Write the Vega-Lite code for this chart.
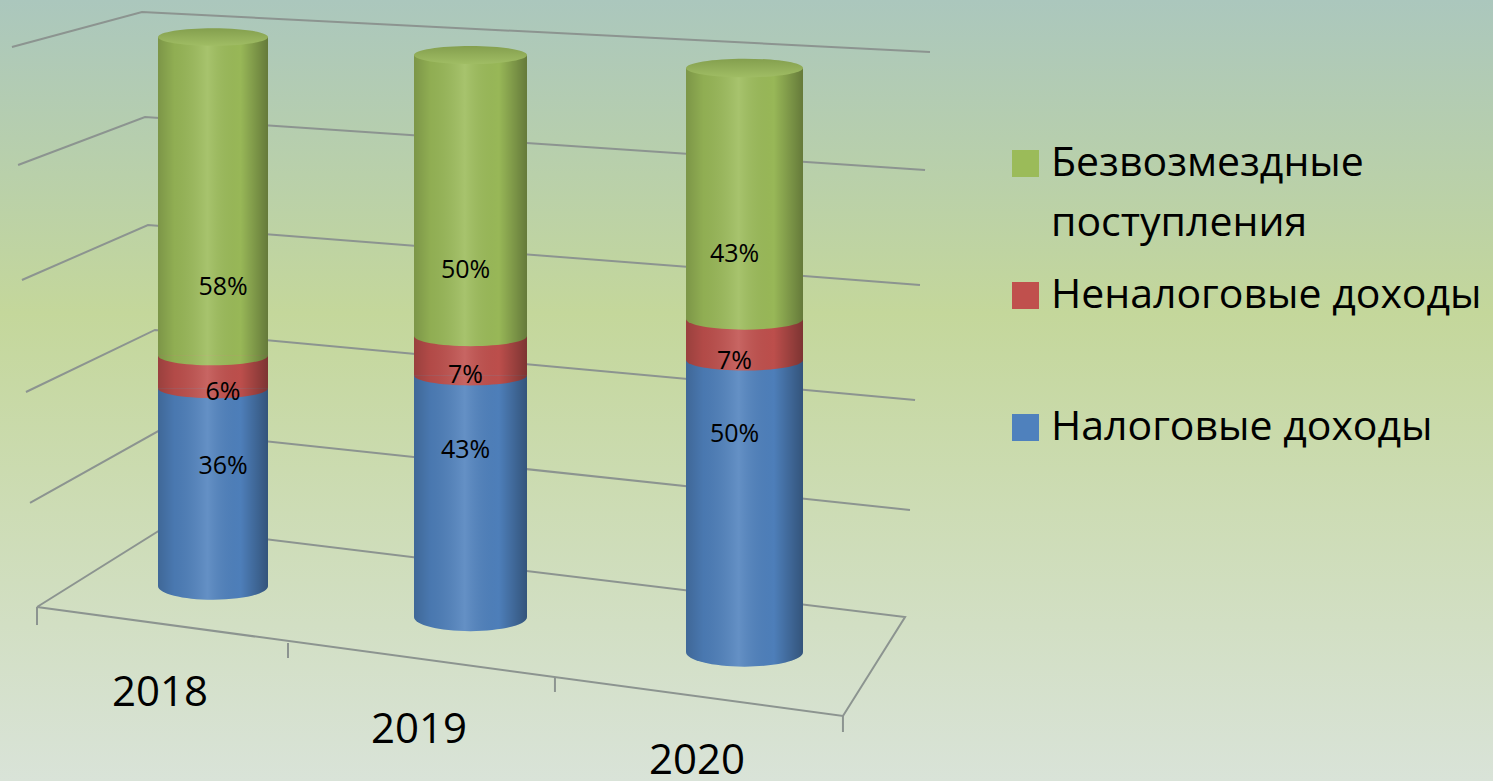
{
"$schema":"https://vega.github.io/schema/vega-lite/v6.json",
"width":1493,"height":781,"padding":0,"autosize":{"type":"none"},
"config":{"view":{"stroke":null,"fill":{"gradient":"linear","x1":0,"y1":0,"x2":0,"y2":1,"stops":[{"offset":0,"color":"#abc7bd"},{"offset":0.4,"color":"#c4d79b"},{"offset":1,"color":"#d9e3d8"}]}}},
"datasets":{
"shares":[
{"year":2018,"category":"Налоговые доходы","rank":1,"share":0.36,"labelAt":0.219},
{"year":2018,"category":"Неналоговые доходы","rank":2,"share":0.06,"labelAt":0.353},
{"year":2018,"category":"Безвозмездные поступления","rank":3,"share":0.58,"labelAt":0.545},
{"year":2019,"category":"Налоговые доходы","rank":1,"share":0.43,"labelAt":0.298},
{"year":2019,"category":"Неналоговые доходы","rank":2,"share":0.07,"labelAt":0.431},
{"year":2019,"category":"Безвозмездные поступления","rank":3,"share":0.50,"labelAt":0.617},
{"year":2020,"category":"Налоговые доходы","rank":1,"share":0.50,"labelAt":0.374},
{"year":2020,"category":"Неналоговые доходы","rank":2,"share":0.07,"labelAt":0.499},
{"year":2020,"category":"Безвозмездные поступления","rank":3,"share":0.43,"labelAt":0.681}],
"frame":[
{"line":"g1","n":1,"u":0.80,"v":93.98},{"line":"g1","n":2,"u":9.51,"v":98.46},{"line":"g1","n":3,"u":62.29,"v":93.34},
{"line":"g2","n":1,"u":1.21,"v":78.87},{"line":"g2","n":2,"u":9.71,"v":85.02},{"line":"g2","n":3,"u":61.96,"v":78.23},
{"line":"g3","n":1,"u":1.47,"v":64.15},{"line":"g3","n":2,"u":9.91,"v":71.19},{"line":"g3","n":3,"u":61.62,"v":63.51},
{"line":"g4","n":1,"u":1.74,"v":49.81},{"line":"g4","n":2,"u":10.38,"v":57.75},{"line":"g4","n":3,"u":61.29,"v":48.78},
{"line":"g5","n":1,"u":2.01,"v":35.60},{"line":"g5","n":2,"u":10.72,"v":44.94},{"line":"g5","n":3,"u":60.95,"v":34.70},
{"line":"floor","n":1,"u":2.48,"v":22.28},{"line":"floor","n":2,"u":11.05,"v":32.52},{"line":"floor","n":3,"u":60.62,"v":21.00},{"line":"floor","n":4,"u":56.46,"v":8.32},{"line":"floor","n":5,"u":2.48,"v":22.28},
{"line":"t1","n":1,"u":2.48,"v":22.28},{"line":"t1","n":2,"u":2.48,"v":19.97},
{"line":"t2","n":1,"u":19.29,"v":17.67},{"line":"t2","n":2,"u":19.29,"v":15.75},
{"line":"t3","n":1,"u":37.17,"v":13.19},{"line":"t3","n":2,"u":37.17,"v":11.40},
{"line":"t4","n":1,"u":56.46,"v":8.32},{"line":"t4","n":2,"u":56.46,"v":6.27}],
"years":[{"year":"2018","u":10.72,"v":11.27},{"year":"2019","u":28.06,"v":6.53},{"year":"2020","u":46.68,"v":2.6}]
},
"data":{"name":"shares"},
"transform":[{"stack":"share","groupby":["year"],"sort":[{"field":"rank","order":"ascending"}],"as":["y0","y1"]}],
"resolve":{"scale":{"x":"independent","y":"independent"}},
"layer":[
{"layer":[
{"data":{"name":"frame"},"mark":{"type":"line","color":"#8c9490","strokeWidth":2,"interpolate":"linear"},
"encoding":{"detail":{"field":"line"},"order":{"field":"n"},
"x":{"field":"u","type":"quantitative","axis":null,"scale":{"domain":[0,100],"nice":false,"zero":false}},
"y":{"field":"v","type":"quantitative","axis":null,"scale":{"domain":[0,100],"nice":false,"zero":false}}}},
{"data":{"name":"years"},"mark":{"type":"text","font":"Open Sans","fontSize":42,"color":"#000000","align":"center","baseline":"middle"},
"encoding":{"text":{"field":"year"},
"x":{"field":"u","type":"quantitative","axis":null},
"y":{"field":"v","type":"quantitative","axis":null}}}
]},
{"transform":[{"filter":"datum.year==2018"}],
"encoding":{"x":{"field":"year","type":"nominal","axis":null,"scale":{"type":"band","domain":[2018],"range":[158,268],"paddingInner":0,"paddingOuter":0}}},
"layer":[
{"mark":{"type":"bar"},"encoding":{"y":{"field":"y0","type":"quantitative","axis":null,"scale":{"domain":[0,1],"range":[586,37],"nice":false,"zero":false}},"y2":{"field":"y1"},
"color":{"field":"category","type":"nominal","scale":{"domain":["Безвозмездные поступления","Неналоговые доходы","Налоговые доходы"],"range":["#9bbb59","#c0504d","#4f81bd"]},
"legend":{"title":null,"orient":"none","legendX":1005,"legendY":143,"symbolType":"square","symbolSize":729,"symbolStrokeWidth":0,"symbolOpacity":1,"labelFont":"Open Sans","labelFontSize":41,"labelColor":"#000000","labelLimit":600,"labelOffset":5,"rowPadding":30,"gridAlign":"all","columns":1,
"labelExpr":"datum.label=='Безвозмездные поступления'?['Безвозмездные','поступления']:datum.label",
"encode":{"labels":{"update":{"lineHeight":{"value":60}}}}}}}},
{"transform":[{"filter":"datum.rank>1"}],"mark":{"type":"point","filled":true,"opacity":1,"strokeWidth":0,"size":12100,"shape":"M-1,0A1,0.18 0 0,0 1,0Z"},"encoding":{"y":{"field":"y0","type":"quantitative"},"color":{"field":"category","type":"nominal"}}},
{"transform":[{"filter":"datum.rank==1"}],"mark":{"type":"point","filled":true,"opacity":1,"strokeWidth":0,"size":12100,"shape":"M-1,0A1,0.25 0 0,0 1,0Z"},"encoding":{"y":{"field":"y0","type":"quantitative"},"color":{"field":"category","type":"nominal"}}},
{"transform":[{"filter":"datum.rank==1"}],"mark":{"type":"bar","fill":{"gradient":"linear","x1":0,"y1":0,"x2":1,"y2":0,"stops":[{"offset":0,"color":"rgba(0,0,0,0.2)"},{"offset":0.15,"color":"rgba(0,0,0,0.07)"},{"offset":0.45,"color":"rgba(255,255,255,0.12)"},{"offset":0.75,"color":"rgba(0,0,0,0.02)"},{"offset":1,"color":"rgba(0,0,0,0.35)"}]}},"encoding":{"y":{"datum":0,"type":"quantitative"},"y2":{"datum":1}}},
{"transform":[{"filter":"datum.rank==1"}],"mark":{"type":"point","filled":true,"opacity":1,"strokeWidth":0,"size":12100,"shape":"M-1,0A1,0.25 0 0,0 1,0Z","fill":{"gradient":"linear","x1":0,"y1":0,"x2":1,"y2":0,"stops":[{"offset":0,"color":"rgba(0,0,0,0.2)"},{"offset":0.15,"color":"rgba(0,0,0,0.07)"},{"offset":0.45,"color":"rgba(255,255,255,0.12)"},{"offset":0.75,"color":"rgba(0,0,0,0.02)"},{"offset":1,"color":"rgba(0,0,0,0.35)"}]}},"encoding":{"y":{"field":"y0","type":"quantitative"}}},
{"transform":[{"filter":"datum.rank==3"}],"mark":{"type":"point","filled":true,"opacity":1,"strokeWidth":0,"size":12100,"shape":"M-1,0A1,0.16 0 1,0 1,0A1,0.16 0 1,0 -1,0Z","fill":{"gradient":"linear","x1":0,"y1":0,"x2":0,"y2":1,"stops":[{"offset":0,"color":"#849f4e"},{"offset":1,"color":"#a0bd64"}]}},"encoding":{"y":{"field":"y1","type":"quantitative"}}},
{"mark":{"type":"text","font":"Open Sans","fontSize":25,"color":"#000000","dx":10},"encoding":{"y":{"field":"labelAt","type":"quantitative"},"text":{"field":"share","type":"quantitative","format":".0%"}}}
]},
{"transform":[{"filter":"datum.year==2019"}],
"encoding":{"x":{"field":"year","type":"nominal","axis":null,"scale":{"type":"band","domain":[2019],"range":[414,527],"paddingInner":0,"paddingOuter":0}}},
"layer":[
{"mark":{"type":"bar"},"encoding":{"y":{"field":"y0","type":"quantitative","axis":null,"scale":{"domain":[0,1],"range":[617,55],"nice":false,"zero":false}},"y2":{"field":"y1"},"color":{"field":"category","type":"nominal"}}},
{"transform":[{"filter":"datum.rank>1"}],"mark":{"type":"point","filled":true,"opacity":1,"strokeWidth":0,"size":12769,"shape":"M-1,0A1,0.18 0 0,0 1,0Z"},"encoding":{"y":{"field":"y0","type":"quantitative"},"color":{"field":"category","type":"nominal"}}},
{"transform":[{"filter":"datum.rank==1"}],"mark":{"type":"point","filled":true,"opacity":1,"strokeWidth":0,"size":12769,"shape":"M-1,0A1,0.25 0 0,0 1,0Z"},"encoding":{"y":{"field":"y0","type":"quantitative"},"color":{"field":"category","type":"nominal"}}},
{"transform":[{"filter":"datum.rank==1"}],"mark":{"type":"bar","fill":{"gradient":"linear","x1":0,"y1":0,"x2":1,"y2":0,"stops":[{"offset":0,"color":"rgba(0,0,0,0.2)"},{"offset":0.15,"color":"rgba(0,0,0,0.07)"},{"offset":0.45,"color":"rgba(255,255,255,0.12)"},{"offset":0.75,"color":"rgba(0,0,0,0.02)"},{"offset":1,"color":"rgba(0,0,0,0.35)"}]}},"encoding":{"y":{"datum":0,"type":"quantitative"},"y2":{"datum":1}}},
{"transform":[{"filter":"datum.rank==1"}],"mark":{"type":"point","filled":true,"opacity":1,"strokeWidth":0,"size":12769,"shape":"M-1,0A1,0.25 0 0,0 1,0Z","fill":{"gradient":"linear","x1":0,"y1":0,"x2":1,"y2":0,"stops":[{"offset":0,"color":"rgba(0,0,0,0.2)"},{"offset":0.15,"color":"rgba(0,0,0,0.07)"},{"offset":0.45,"color":"rgba(255,255,255,0.12)"},{"offset":0.75,"color":"rgba(0,0,0,0.02)"},{"offset":1,"color":"rgba(0,0,0,0.35)"}]}},"encoding":{"y":{"field":"y0","type":"quantitative"}}},
{"transform":[{"filter":"datum.rank==3"}],"mark":{"type":"point","filled":true,"opacity":1,"strokeWidth":0,"size":12769,"shape":"M-1,0A1,0.16 0 1,0 1,0A1,0.16 0 1,0 -1,0Z","fill":{"gradient":"linear","x1":0,"y1":0,"x2":0,"y2":1,"stops":[{"offset":0,"color":"#849f4e"},{"offset":1,"color":"#a0bd64"}]}},"encoding":{"y":{"field":"y1","type":"quantitative"}}},
{"mark":{"type":"text","font":"Open Sans","fontSize":25,"color":"#000000","dx":-5},"encoding":{"y":{"field":"labelAt","type":"quantitative"},"text":{"field":"share","type":"quantitative","format":".0%"}}}
]},
{"transform":[{"filter":"datum.year==2020"}],
"encoding":{"x":{"field":"year","type":"nominal","axis":null,"scale":{"type":"band","domain":[2020],"range":[686,803],"paddingInner":0,"paddingOuter":0}}},
"layer":[
{"mark":{"type":"bar"},"encoding":{"y":{"field":"y0","type":"quantitative","axis":null,"scale":{"domain":[0,1],"range":[652,68],"nice":false,"zero":false}},"y2":{"field":"y1"},"color":{"field":"category","type":"nominal"}}},
{"transform":[{"filter":"datum.rank>1"}],"mark":{"type":"point","filled":true,"opacity":1,"strokeWidth":0,"size":13689,"shape":"M-1,0A1,0.18 0 0,0 1,0Z"},"encoding":{"y":{"field":"y0","type":"quantitative"},"color":{"field":"category","type":"nominal"}}},
{"transform":[{"filter":"datum.rank==1"}],"mark":{"type":"point","filled":true,"opacity":1,"strokeWidth":0,"size":13689,"shape":"M-1,0A1,0.25 0 0,0 1,0Z"},"encoding":{"y":{"field":"y0","type":"quantitative"},"color":{"field":"category","type":"nominal"}}},
{"transform":[{"filter":"datum.rank==1"}],"mark":{"type":"bar","fill":{"gradient":"linear","x1":0,"y1":0,"x2":1,"y2":0,"stops":[{"offset":0,"color":"rgba(0,0,0,0.2)"},{"offset":0.15,"color":"rgba(0,0,0,0.07)"},{"offset":0.45,"color":"rgba(255,255,255,0.12)"},{"offset":0.75,"color":"rgba(0,0,0,0.02)"},{"offset":1,"color":"rgba(0,0,0,0.35)"}]}},"encoding":{"y":{"datum":0,"type":"quantitative"},"y2":{"datum":1}}},
{"transform":[{"filter":"datum.rank==1"}],"mark":{"type":"point","filled":true,"opacity":1,"strokeWidth":0,"size":13689,"shape":"M-1,0A1,0.25 0 0,0 1,0Z","fill":{"gradient":"linear","x1":0,"y1":0,"x2":1,"y2":0,"stops":[{"offset":0,"color":"rgba(0,0,0,0.2)"},{"offset":0.15,"color":"rgba(0,0,0,0.07)"},{"offset":0.45,"color":"rgba(255,255,255,0.12)"},{"offset":0.75,"color":"rgba(0,0,0,0.02)"},{"offset":1,"color":"rgba(0,0,0,0.35)"}]}},"encoding":{"y":{"field":"y0","type":"quantitative"}}},
{"transform":[{"filter":"datum.rank==3"}],"mark":{"type":"point","filled":true,"opacity":1,"strokeWidth":0,"size":13689,"shape":"M-1,0A1,0.16 0 1,0 1,0A1,0.16 0 1,0 -1,0Z","fill":{"gradient":"linear","x1":0,"y1":0,"x2":0,"y2":1,"stops":[{"offset":0,"color":"#849f4e"},{"offset":1,"color":"#a0bd64"}]}},"encoding":{"y":{"field":"y1","type":"quantitative"}}},
{"mark":{"type":"text","font":"Open Sans","fontSize":25,"color":"#000000","dx":-10},"encoding":{"y":{"field":"labelAt","type":"quantitative"},"text":{"field":"share","type":"quantitative","format":".0%"}}}
]}
]
}
